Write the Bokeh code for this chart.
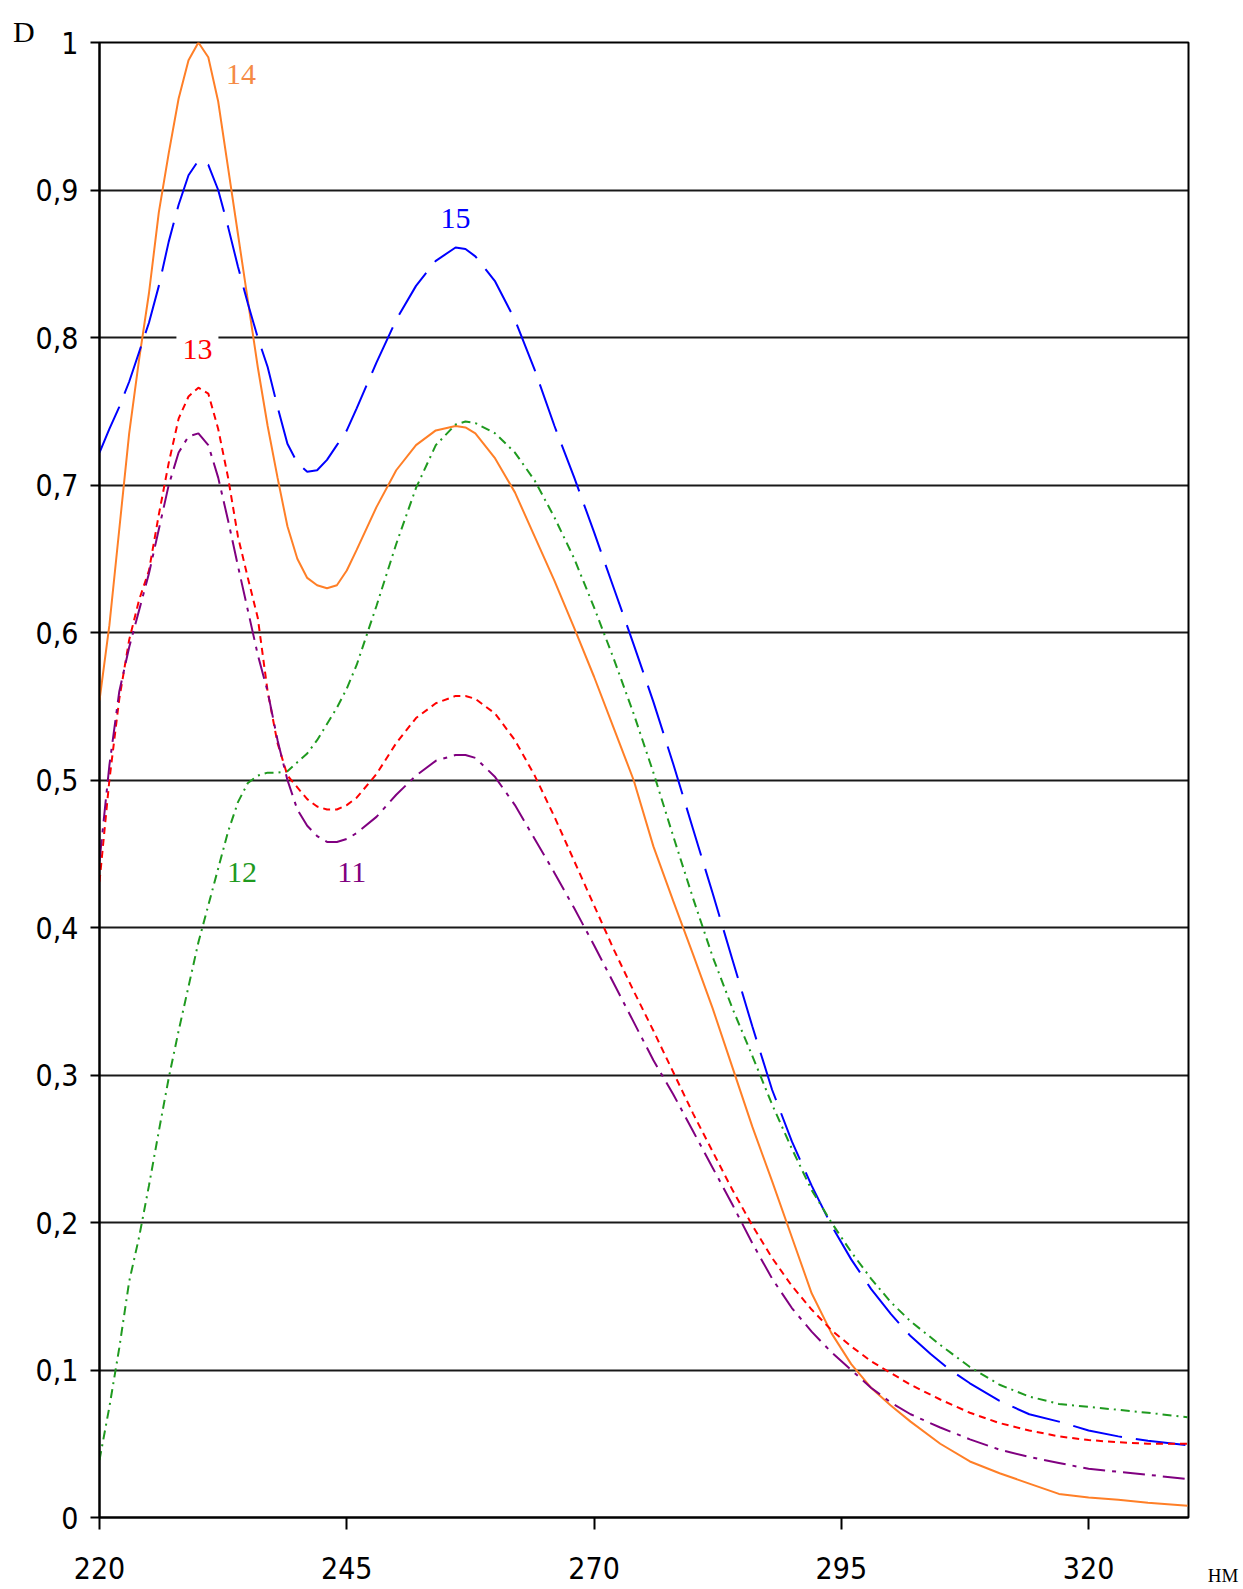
from bokeh.plotting import figure
from bokeh.models import Range1d, FixedTicker, Label, CustomJSTickFormatter
from bokeh.embed import file_html
from bokeh.resources import INLINE

# ---------------- data ----------------
x14 = [220, 221, 222, 223, 224, 225, 226, 227, 228, 229, 230, 231, 232, 233, 234, 235, 236, 237, 238, 239,
       240, 241, 242, 243, 244, 245, 246, 248, 250, 252, 254, 256, 257, 258, 260, 262, 264, 266, 268, 270,
       272, 274, 276, 278, 280, 282, 284, 286, 288, 290, 292, 294, 296, 298, 300, 302, 305, 308, 311, 314,
       317, 320, 323, 326, 330]
y14 = [0.554, 0.605, 0.670, 0.735, 0.785, 0.830, 0.885, 0.925, 0.962, 0.988, 1.000, 0.990, 0.960, 0.915, 0.870,
       0.825, 0.780, 0.740, 0.705, 0.672, 0.650, 0.637, 0.632, 0.630, 0.632, 0.642, 0.656, 0.685, 0.710, 0.727,
       0.737, 0.740, 0.739, 0.735, 0.718, 0.695, 0.665, 0.635, 0.603, 0.570, 0.535, 0.500, 0.455, 0.418, 0.382,
       0.345, 0.305, 0.265, 0.228, 0.190, 0.152, 0.125, 0.104, 0.088, 0.076, 0.065, 0.050, 0.038, 0.030, 0.023,
       0.016, 0.0135, 0.012, 0.010, 0.008]

x15 = [220, 221, 222, 223, 224, 225, 226, 227, 228, 229, 230, 231, 232, 233, 234, 235, 236, 237, 238, 239,
       240, 241, 242, 243, 244, 245, 246, 248, 250, 252, 254, 256, 257, 258, 260, 262, 264, 266, 268, 270,
       272, 274, 276, 278, 280, 282, 284, 286, 288, 290, 292, 294, 296, 298, 300, 302, 304, 306, 308, 311,
       314, 317, 320, 323, 326, 330]
y15 = [0.722, 0.738, 0.753, 0.770, 0.790, 0.810, 0.835, 0.865, 0.890, 0.910, 0.920, 0.917, 0.900, 0.875, 0.848,
       0.823, 0.800, 0.780, 0.753, 0.728, 0.715, 0.709, 0.710, 0.717, 0.727, 0.737, 0.752, 0.783, 0.812, 0.835,
       0.852, 0.861, 0.860, 0.855, 0.838, 0.812, 0.778, 0.740, 0.705, 0.668, 0.630, 0.592, 0.553, 0.511, 0.467,
       0.423, 0.378, 0.333, 0.290, 0.255, 0.225, 0.198, 0.175, 0.155, 0.138, 0.123, 0.111, 0.100, 0.091, 0.079,
       0.070, 0.065, 0.059, 0.055, 0.052, 0.049]

x12 = [220, 221, 222, 223, 224, 225, 226, 227, 228, 229, 230, 231, 232, 233, 234, 235, 236, 237, 238, 239,
       240, 241, 242, 243, 244, 245, 246, 248, 250, 252, 254, 256, 257, 258, 260, 262, 264, 266, 268, 270,
       272, 274, 276, 278, 280, 282, 284, 286, 288, 290, 292, 294, 296, 298, 300, 302, 305, 308, 311, 314,
       317, 320, 323, 326, 330]
y12 = [0.039, 0.075, 0.115, 0.160, 0.190, 0.225, 0.262, 0.298, 0.330, 0.360, 0.390, 0.415, 0.440, 0.465, 0.485,
       0.498, 0.503, 0.505, 0.505, 0.506, 0.512, 0.518, 0.527, 0.538, 0.549, 0.562, 0.578, 0.618, 0.660, 0.698,
       0.727, 0.741, 0.743, 0.742, 0.735, 0.722, 0.703, 0.678, 0.650, 0.617, 0.582, 0.545, 0.505, 0.462, 0.420,
       0.380, 0.345, 0.313, 0.280, 0.250, 0.222, 0.200, 0.180, 0.162, 0.146, 0.133, 0.117, 0.102, 0.090, 0.082,
       0.077, 0.075, 0.073, 0.071, 0.068]

x13 = [220, 221, 222, 223, 224, 225, 226, 227, 228, 229, 230, 231, 232, 233, 234, 235, 236, 237, 238, 239,
       240, 241, 242, 243, 244, 245, 246, 248, 250, 252, 254, 256, 257, 258, 260, 262, 264, 266, 268, 270,
       272, 274, 276, 278, 280, 282, 284, 286, 288, 290, 292, 294, 296, 298, 300, 302, 305, 308, 311, 314,
       317, 320, 323, 326, 330]
y13 = [0.431, 0.500, 0.555, 0.595, 0.622, 0.642, 0.680, 0.715, 0.745, 0.760, 0.766, 0.762, 0.738, 0.705, 0.665,
       0.637, 0.610, 0.560, 0.525, 0.503, 0.495, 0.487, 0.482, 0.480, 0.480, 0.483, 0.488, 0.504, 0.525, 0.542,
       0.552, 0.557, 0.557, 0.555, 0.545, 0.527, 0.503, 0.475, 0.445, 0.415, 0.385, 0.357, 0.330, 0.302, 0.274,
       0.248, 0.222, 0.198, 0.176, 0.157, 0.141, 0.127, 0.116, 0.106, 0.098, 0.090, 0.080, 0.071, 0.064, 0.059,
       0.055, 0.0525, 0.051, 0.050, 0.050]

x11 = [220, 221, 222, 223, 224, 225, 226, 227, 228, 229, 230, 231, 232, 233, 234, 235, 236, 237, 238, 239,
       240, 241, 242, 243, 244, 245, 246, 248, 250, 252, 254, 256, 257, 258, 260, 262, 264, 266, 268, 270,
       272, 274, 276, 278, 280, 282, 284, 286, 288, 290, 292, 294, 296, 298, 300, 302, 305, 308, 311, 314,
       317, 320, 323, 326, 330]
y11 = [0.445, 0.510, 0.560, 0.590, 0.615, 0.640, 0.670, 0.700, 0.722, 0.733, 0.735, 0.727, 0.705, 0.676, 0.645,
       0.615, 0.585, 0.560, 0.527, 0.500, 0.480, 0.469, 0.462, 0.458, 0.458, 0.460, 0.464, 0.475, 0.490, 0.503,
       0.513, 0.517, 0.517, 0.515, 0.502, 0.483, 0.460, 0.437, 0.413, 0.388, 0.362, 0.336, 0.310, 0.287, 0.262,
       0.237, 0.212, 0.186, 0.162, 0.142, 0.126, 0.112, 0.100, 0.088, 0.078, 0.070, 0.061, 0.053, 0.046, 0.041,
       0.037, 0.033, 0.031, 0.029, 0.026]

x_ticks = [220, 245, 270, 295, 320]
y_ticks = [0, 0.1, 0.2, 0.3, 0.4, 0.5, 0.6, 0.7, 0.8, 0.9, 1.0]

series_names = ["14", "15", "13", "12", "11"]
label_x = [234.3, 256.0, 229.9, 234.4, 245.5]
label_y = [0.978, 0.881, 0.792, 0.4375, 0.4375]

# ---------------- styles ----------------
TICK_FONT = "'Liberation Sans Narrow', 'DejaVu Sans Condensed', sans-serif"
SERIF = "'Liberation Serif', serif"

p = figure(width=1243, height=1589, output_backend="svg", toolbar_location=None,
           x_range=Range1d(220, 330.1), y_range=Range1d(0, 1))
p.min_border_left = 99
p.min_border_right = 55
p.min_border_top = 42
p.min_border_bottom = 72
p.background_fill_color = "white"
p.border_fill_color = "white"
p.outline_line_color = "black"
p.outline_line_width = 2

p.xgrid.grid_line_color = None
p.ygrid.grid_line_color = "black"
p.ygrid.grid_line_width = 2
p.ygrid.grid_line_alpha = 0.9

p.xaxis.ticker = FixedTicker(ticks=x_ticks)
p.yaxis.ticker = FixedTicker(ticks=y_ticks)
p.yaxis.formatter = CustomJSTickFormatter(code="return tick.toFixed(1).replace('.', ',').replace(',0', '');")
for ax in (p.xaxis[0], p.yaxis[0]):
    ax.axis_line_color = "black"
    ax.axis_line_width = 2
    ax.major_tick_line_color = "black"
    ax.major_tick_line_width = 2
    ax.minor_tick_line_color = None
    ax.major_tick_in = 0
    ax.major_label_text_font = TICK_FONT
    ax.major_label_text_font_size = "30px"
    ax.major_label_text_color = "black"
p.xaxis.major_tick_out = 12
p.xaxis.major_label_standoff = 27
p.yaxis.major_tick_out = 9
p.yaxis.major_label_standoff = 12

# curves
p.line(x14, y14, line_color="#ff7f27", line_width=2)
p.line(x15, y15, line_color="#0000ff", line_width=2, line_dash="50 14")
p.line(x12, y12, line_color="#1f9a1f", line_width=2, line_dash="9 5 2 5")
p.line(x13, y13, line_color="#ff0000", line_width=2, line_dash="7 5")
p.line(x11, y11, line_color="#800080", line_width=2, line_dash="22 7 4 7")

label_colors = ["#f58a45", "#0000ff", "#ff0000", "#1f9a1f", "#800080"]
for name, lx, ly, c in zip(series_names, label_x, label_y, label_colors):
    lab = Label(x=lx, y=ly, text=name, text_color=c, text_font=SERIF, text_font_size="30px",
                text_align="center", text_baseline="middle")
    if name == "13":
        lab.background_fill_color = "white"
        lab.padding = 6
    p.add_layout(lab)

# axis captions placed in the side panels so they are not clipped by the frame
p.add_layout(Label(x=212.35, y=1.0076, text="D", text_color="black", text_font=SERIF,
                   text_font_size="30px", text_align="center", text_baseline="middle"), "left")
p.add_layout(Label(x=333.6, y=-0.039, text="НМ", text_color="black", text_font=SERIF,
                   text_font_size="19px", text_align="center", text_baseline="middle"), "right")

open("out.html", "w").write(file_html(p, INLINE))
